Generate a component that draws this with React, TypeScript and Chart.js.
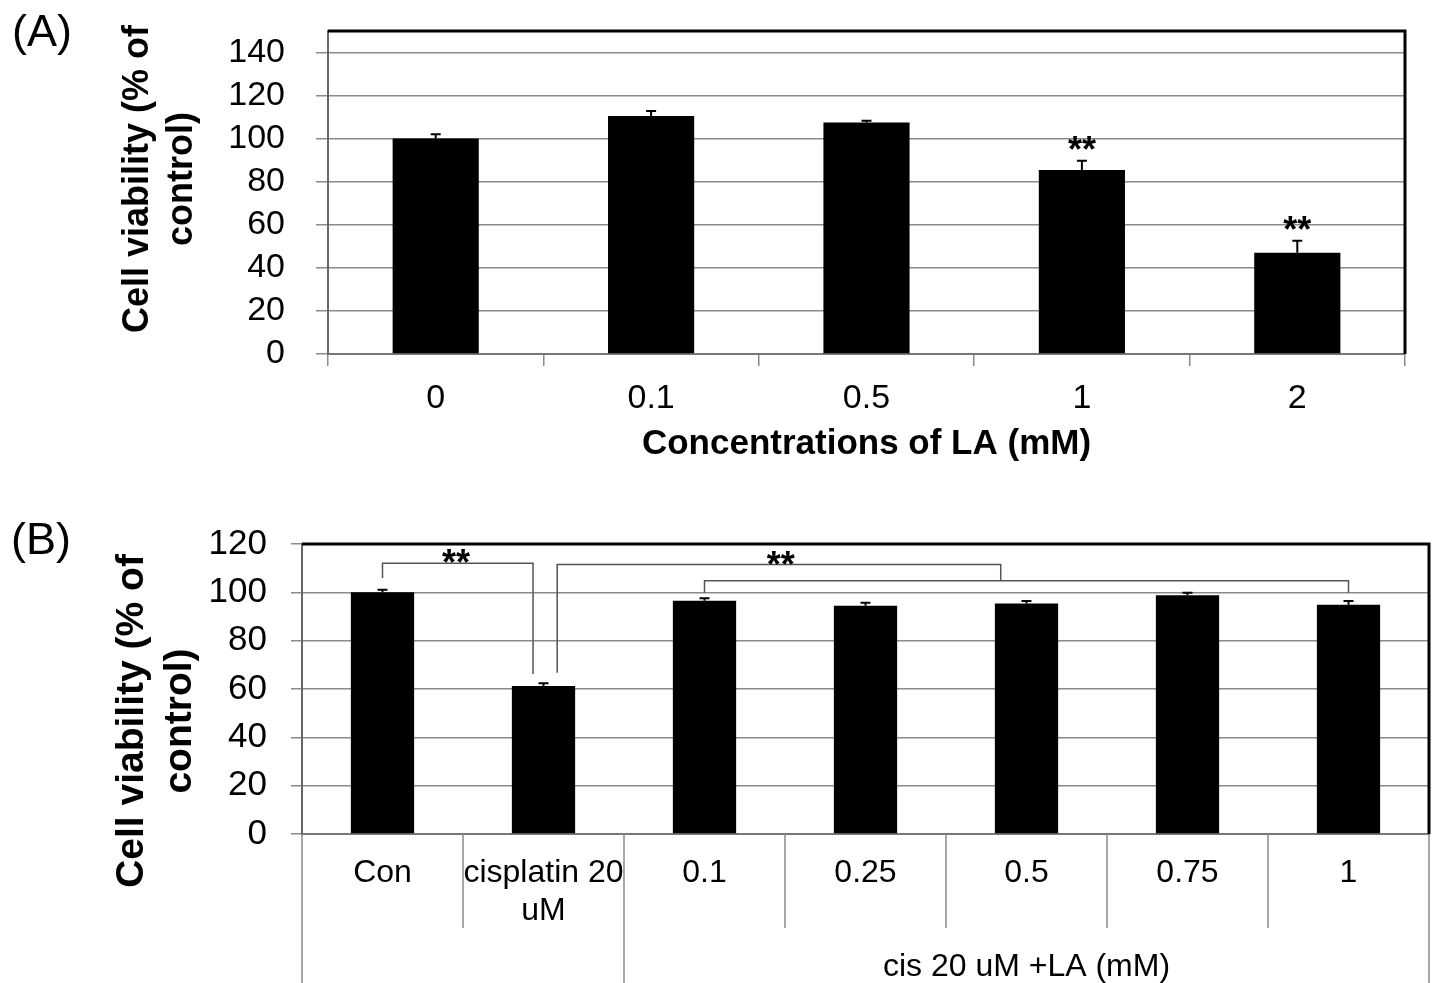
import React, { useEffect, useRef } from 'react';
import { Chart, registerables } from 'chart.js';

Chart.register(...registerables);

const FONT = "'Liberation Sans', Arial, Helvetica, sans-serif";

// ---------- Panel A data ----------
const aPanel = '(A)';
const aCategories = ['0', '0.1', '0.5', '1', '2'];
const aValues = [100.1, 110.5, 107.5, 85.4, 47.0];
const aErrors = [1.9, 2.3, 0.8, 4.4, 5.6];
const aMarks = ['', '', '', '**', '**'];
const aYTitle = ['Cell viability (% of', 'control)'];
const aXTitle = 'Concentrations of LA (mM)';
const aYMax = 150;
const aYTicks = [0, 20, 40, 60, 80, 100, 120, 140];

// ---------- Panel B data ----------
const bPanel = '(B)';
const bCategories = ['Con', ['cisplatin 20', 'uM'], '0.1', '0.25', '0.5', '0.75', '1'];
const bValues = [100.0, 61.2, 96.5, 94.5, 95.4, 98.8, 94.9];
const bErrors = [1.1, 1.2, 1.1, 1.2, 1.0, 1.0, 1.5];
const bGroupLabel = 'cis 20 uM +LA (mM)';
const bGroupStart = 2; // first category of the group
const bYTitle = ['Cell viability (% of', 'control)'];
const bYMax = 120;
const bYTicks = [0, 20, 40, 60, 80, 100, 120];
// significance brackets: [category index, value] points
const bBrackets = [
  [[0, 105.9], [0, 112.0], [0.935, 112.0], [0.935, 66.2]],
  [[1.085, 66.7], [1.085, 111.5], [3.84, 111.5], [3.84, 104.8]],
  [[2, 99.8], [2, 104.8], [6, 104.8], [6, 99.8]],
];
const bStars = [
  { x: 0.457, y: 115.4, text: '**' },
  { x: 2.473, y: 114.7, text: '**' },
];

function errorBars(values: number[], errors: number[], capHalf: number) {
  return {
    id: 'errorBars',
    afterDatasetsDraw(chart: any) {
      const { ctx } = chart;
      const y = chart.scales.y;
      const meta = chart.getDatasetMeta(0);
      ctx.save();
      ctx.strokeStyle = '#000';
      ctx.lineWidth = 2;
      meta.data.forEach((el: any, i: number) => {
        const top = y.getPixelForValue(values[i] + errors[i]);
        ctx.beginPath();
        ctx.moveTo(el.x, el.y);
        ctx.lineTo(el.x, top);
        ctx.moveTo(el.x - capHalf, top);
        ctx.lineTo(el.x + capHalf, top);
        ctx.stroke();
      });
      ctx.restore();
    },
  };
}

function frame() {
  return {
    id: 'frame',
    afterDraw(chart: any) {
      const { ctx, chartArea } = chart;
      const { left, right, top, bottom } = chartArea;
      ctx.save();
      ctx.strokeStyle = '#000';
      ctx.lineWidth = 3;
      ctx.beginPath();
      ctx.moveTo(left, top);
      ctx.lineTo(right, top);
      ctx.lineTo(right, bottom);
      ctx.stroke();
      ctx.restore();
    },
  };
}

const textA = {
  id: 'textA',
  afterDraw(chart: any) {
    const { ctx, chartArea } = chart;
    const { left, right } = chartArea;
    const y = chart.scales.y;
    const meta = chart.getDatasetMeta(0);
    ctx.save();
    ctx.fillStyle = '#000';
    ctx.font = `45px ${FONT}`;
    ctx.textAlign = 'left';
    ctx.textBaseline = 'alphabetic';
    ctx.fillText(aPanel, 12, 46);

    ctx.save();
    ctx.translate(138, 179);
    ctx.rotate(-Math.PI / 2);
    ctx.font = `bold 36px ${FONT}`;
    ctx.textAlign = 'center';
    ctx.textBaseline = 'middle';
    ctx.fillText(aYTitle[0], 0, 0);
    ctx.fillText(aYTitle[1], 0, 44);
    ctx.restore();

    ctx.font = `bold 35px ${FONT}`;
    ctx.textAlign = 'center';
    ctx.textBaseline = 'middle';
    ctx.fillText(aXTitle, (left + right) / 2, 444);

    ctx.font = `bold 36px ${FONT}`;
    ctx.textAlign = 'center';
    ctx.textBaseline = 'alphabetic';
    meta.data.forEach((el: any, i: number) => {
      if (!aMarks[i]) return;
      const top = y.getPixelForValue(aValues[i] + aErrors[i]);
      ctx.fillText(aMarks[i], el.x, top + 1);
    });
    ctx.restore();
  },
};

const textB = {
  id: 'textB',
  afterDraw(chart: any) {
    const { ctx, chartArea, height } = chart;
    const { left, right, bottom } = chartArea;
    const x = chart.scales.x;
    const y = chart.scales.y;
    const n = bCategories.length;
    const w = (right - left) / n;
    const cx = (idx: number) => x.getPixelForValue(0) + idx * w;
    ctx.save();
    ctx.fillStyle = '#000';
    ctx.font = `45px ${FONT}`;
    ctx.textAlign = 'left';
    ctx.textBaseline = 'alphabetic';
    ctx.fillText(bPanel, 11, 64);

    ctx.save();
    ctx.translate(132, 231);
    ctx.rotate(-Math.PI / 2);
    ctx.font = `bold 39px ${FONT}`;
    ctx.textAlign = 'center';
    ctx.textBaseline = 'middle';
    ctx.fillText(bYTitle[0], 0, 0);
    ctx.fillText(bYTitle[1], 0, 48);
    ctx.restore();

    // category table lines
    ctx.strokeStyle = '#8a8a8a';
    ctx.lineWidth = 1.5;
    for (let i = 0; i <= n; i++) {
      const bx = left + i * w;
      const full = i === 0 || i === n || i === bGroupStart;
      ctx.beginPath();
      ctx.moveTo(bx, bottom);
      ctx.lineTo(bx, full ? height : bottom + 94);
      ctx.stroke();
    }

    ctx.font = `32px ${FONT}`;
    ctx.textAlign = 'center';
    ctx.textBaseline = 'middle';
    ctx.fillText(bGroupLabel, (left + bGroupStart * w + right) / 2, 477);

    // brackets
    ctx.strokeStyle = '#555';
    ctx.lineWidth = 1.5;
    bBrackets.forEach((path) => {
      ctx.beginPath();
      path.forEach(([ci, v], k) => {
        const px = cx(ci);
        const py = y.getPixelForValue(v);
        if (k === 0) ctx.moveTo(px, py);
        else ctx.lineTo(px, py);
      });
      ctx.stroke();
    });

    ctx.font = `bold 36px ${FONT}`;
    ctx.textAlign = 'center';
    ctx.textBaseline = 'alphabetic';
    bStars.forEach((s) => {
      ctx.fillText(s.text, cx(s.x), y.getPixelForValue(s.y) + 20);
    });
    ctx.restore();
  },
};

function PanelA() {
  const ref = useRef<HTMLCanvasElement>(null);
  useEffect(() => {
    const chart = new Chart(ref.current as HTMLCanvasElement, {
      type: 'bar',
      data: {
        labels: aCategories,
        datasets: [
          {
            data: aValues,
            backgroundColor: '#000',
            borderWidth: 0,
            categoryPercentage: 1,
            barPercentage: 0.4,
          },
        ],
      },
      options: {
        responsive: false,
        animation: false,
        devicePixelRatio: 1,
        layout: { padding: { left: 218, right: 27, top: 31, bottom: 0 } },
        plugins: { legend: { display: false }, tooltip: { enabled: false } },
        scales: {
          x: {
            offset: true,
            grid: { offset: true, drawOnChartArea: false, tickLength: 12, color: '#8a8a8a', lineWidth: 1.5 },
            border: { color: '#777', width: 2 },
            ticks: { font: { family: FONT, size: 34 }, color: '#000', padding: 12, maxRotation: 0, minRotation: 0, autoSkip: false },
            afterFit: (s: any) => {
              s.height = 126;
              s.paddingLeft = 0;
              s.paddingRight = 0;
            },
          },
          y: {
            min: 0,
            max: aYMax,
            ticks: { font: { family: FONT, size: 34 }, color: '#000', padding: 31, autoSkip: false },
            grid: { color: '#8a8a8a', lineWidth: 1.5, tickLength: 12 },
            border: { color: '#666', width: 2 },
            afterBuildTicks: (s: any) => {
              s.ticks = aYTicks.map((v) => ({ value: v }));
            },
            afterFit: (s: any) => {
              s.width = 110;
              s.paddingTop = 0;
              s.paddingBottom = 0;
            },
          },
        },
      },
      plugins: [errorBars(aValues, aErrors, 5), frame(), textA],
    } as any);
    return () => chart.destroy();
  }, []);
  return <canvas ref={ref} width={1432} height={480} style={{ position: 'absolute', left: 0, top: 0 }} />;
}

function PanelB() {
  const ref = useRef<HTMLCanvasElement>(null);
  useEffect(() => {
    const chart = new Chart(ref.current as HTMLCanvasElement, {
      type: 'bar',
      data: {
        labels: bCategories,
        datasets: [
          {
            data: bValues,
            backgroundColor: '#000',
            borderWidth: 0,
            categoryPercentage: 1,
            barPercentage: 0.393,
          },
        ],
      },
      options: {
        responsive: false,
        animation: false,
        devicePixelRatio: 1,
        layout: { padding: { left: 202, right: 3, top: 54, bottom: 0 } },
        plugins: { legend: { display: false }, tooltip: { enabled: false } },
        scales: {
          x: {
            offset: true,
            grid: { offset: true, drawOnChartArea: false, drawTicks: false },
            border: { color: '#777', width: 2 },
            ticks: { font: { family: FONT, size: 32 }, color: '#000', padding: 20, maxRotation: 0, minRotation: 0, autoSkip: false },
            afterFit: (s: any) => {
              s.height = 149;
              s.paddingLeft = 0;
              s.paddingRight = 0;
            },
          },
          y: {
            min: 0,
            max: bYMax,
            ticks: { font: { family: FONT, size: 35 }, color: '#000', padding: 24, autoSkip: false },
            grid: { color: '#8a8a8a', lineWidth: 1.5, tickLength: 11 },
            border: { color: '#666', width: 2 },
            afterBuildTicks: (s: any) => {
              s.ticks = bYTicks.map((v) => ({ value: v }));
            },
            afterFit: (s: any) => {
              s.width = 100;
              s.paddingTop = 0;
              s.paddingBottom = 0;
            },
          },
        },
      },
      plugins: [errorBars(bValues, bErrors, 5), frame(), textB],
    } as any);
    return () => chart.destroy();
  }, []);
  return <canvas ref={ref} width={1432} height={493} style={{ position: 'absolute', left: 0, top: 490 }} />;
}

export default function App() {
  return (
    <div style={{ position: 'fixed', left: 0, top: 0, width: 1432, height: 983, background: '#fff', overflow: 'hidden' }}>
      <PanelA />
      <PanelB />
    </div>
  );
}
